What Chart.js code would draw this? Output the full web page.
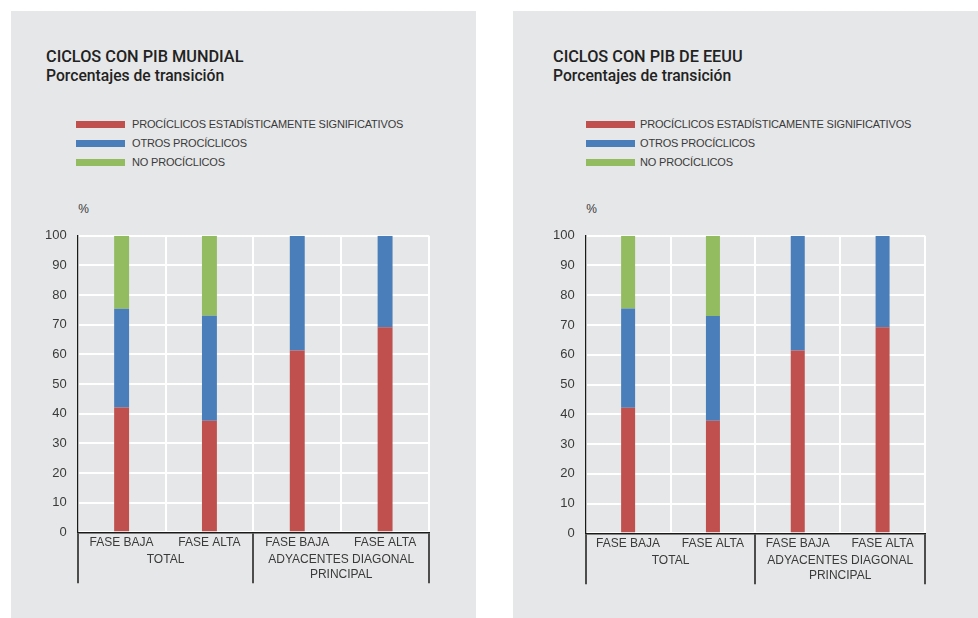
<!DOCTYPE html>
<html><head><meta charset="utf-8">
<script src="https://cdn.jsdelivr.net/npm/chart.js@4.4.1/dist/chart.umd.min.js"></script>
<style>
html,body{margin:0;padding:0;background:#fff;}
body{width:978px;height:618px;position:relative;overflow:hidden;font-family:'Liberation Sans',Arial,sans-serif;}
.panel{position:absolute;top:11px;width:465px;height:607px;background:#e6e7e8;}
.abs{position:absolute;white-space:nowrap;}
.title{font-family:Roboto,sans-serif;font-weight:500;font-size:16.3px;line-height:18px;color:#222;}
.sub{font-family:Roboto,sans-serif;font-weight:500;font-size:15.7px;line-height:18px;color:#222;}
.leg{font-size:11px;line-height:13px;color:#3a3a3a;letter-spacing:-0.18px;}
.pct{font-size:12px;line-height:14px;color:#3a3a3a;}
.swatch{position:absolute;width:49px;height:7px;}
canvas{position:absolute;}
</style></head>
<body>
<div class="panel" style="left:11px"></div>
<div class="panel" style="left:513px"></div>
<div id="overlay"></div>
<canvas id="c1" width="465" height="380" style="left:11px;top:220px"></canvas>
<canvas id="c2" width="465" height="380" style="left:513px;top:220px"></canvas>
<script>
// ---- data ----
const categories = ['FASE BAJA', 'FASE ALTA', 'FASE BAJA', 'FASE ALTA'];
const groups = ['TOTAL', ['ADYACENTES DIAGONAL', 'PRINCIPAL']];
const seriesNames = ['PROCÍCLICOS ESTADÍSTICAMENTE SIGNIFICATIVOS', 'OTROS PROCÍCLICOS', 'NO PROCÍCLICOS'];
const titles = ['CICLOS CON PIB MUNDIAL', 'CICLOS CON PIB DE EEUU'];
const subtitle = 'Porcentajes de transición';
const unitLabel = '%';
const mundialSignif = [42.1, 37.6, 61.3, 69.1];
const mundialOtros = [33.3, 35.4, 38.7, 30.9];
const mundialNo = [24.6, 27.0, 0, 0];
const eeuuSignif = [42.2, 37.8, 61.4, 69.2];
const eeuuOtros = [33.3, 35.2, 38.6, 30.8];
const eeuuNo = [24.5, 27.0, 0, 0];

const colors = ['#c0504d', '#4a7ebb', '#93bb5f'];

// ---- text overlay ----
const overlay = document.getElementById('overlay');
function addText(cls, text, left, top) {
  const d = document.createElement('div');
  d.className = 'abs ' + cls;
  d.textContent = text;
  d.style.left = left + 'px';
  d.style.top = top + 'px';
  overlay.appendChild(d);
}
const layouts = [
  {titleX: 46, legBoxX: 76, legTextX: 132, pctX: 78.3},
  {titleX: 553, legBoxX: 586, legTextX: 640, pctX: 586.3}
];
layouts.forEach((L, p) => {
  addText('title', titles[p], L.titleX, 47.5);
  addText('sub', subtitle, L.titleX, 67);
  const legY = [124.3, 143.8, 162.3];
  seriesNames.forEach((n, i) => {
    const s = document.createElement('div');
    s.className = 'swatch';
    s.style.left = L.legBoxX + 'px';
    s.style.top = (legY[i] - 3.5) + 'px';
    s.style.background = colors[i];
    overlay.appendChild(s);
    addText('leg', n, L.legTextX, legY[i] - 6.5);
  });
  addText('pct', unitLabel, L.pctX, 202);
});

// ---- charts ----
Chart.defaults.font.family = "'Liberation Sans', Arial, sans-serif";
Chart.defaults.color = '#3a3a3a';

function makeChart(id, signif, otros, no, g) {
  return new Chart(document.getElementById(id), {
    type: 'bar',
    data: {
      labels: categories,
      datasets: [
        {label: seriesNames[0], data: signif, backgroundColor: colors[0]},
        {label: seriesNames[1], data: otros, backgroundColor: colors[1]},
        {label: seriesNames[2], data: no, backgroundColor: colors[2]}
      ]
    },
    options: {
      responsive: false,
      animation: false,
      layout: {padding: {left: 0, right: g.padR, top: g.padT, bottom: g.padB}},
      datasets: {bar: {categoryPercentage: 1, barPercentage: g.barPct, borderWidth: 0}},
      plugins: {legend: {display: false}, tooltip: {enabled: false}},
      scales: {
        x: {
          stacked: true,
          offset: true,
          grid: {
            offset: true,
            color: '#ffffff',
            lineWidth: 2,
            drawTicks: true,
            tickLength: 51,
            tickWidth: 1.5,
            tickColor: c => (c.index === undefined || c.index % 2 === 0) ? '#1a1a1a' : 'rgba(0,0,0,0)'
          },
          border: {display: true, color: '#1a1a1a', width: 1.5, z: 1},
          ticks: {padding: -48, font: {size: 12}, color: '#3a3a3a', maxRotation: 0, autoSkip: false},
          afterFit: s => { s.height = 18; }
        },
        x2: {
          type: 'category',
          position: 'bottom',
          labels: groups,
          offset: true,
          grid: {display: false, drawTicks: false},
          border: {display: false},
          ticks: {padding: 2, font: {size: 12, lineHeight: 1.25}, color: '#3a3a3a', maxRotation: 0, autoSkip: false},
          afterFit: s => { s.height = 32; }
        },
        y: {
          stacked: true,
          min: 0,
          max: 100,
          ticks: {stepSize: 10, padding: 11, font: {size: 13}, color: '#3a3a3a'},
          grid: {color: '#ffffff', lineWidth: 2, drawTicks: false},
          border: {display: true, color: '#1a1a1a', width: 1.3, z: 1},
          afterFit: s => { s.width = g.yWidth; s.paddingTop = 0; s.paddingBottom = 0; }
        }
      }
    }
  });
}
makeChart('c1', mundialSignif, mundialOtros, mundialNo, {padR: 47, padT: 15.7, padB: 17.7, yWidth: 66.7, barPct: 0.17});
makeChart('c2', eeuuSignif, eeuuOtros, eeuuNo, {padR: 53, padT: 15.7, padB: 16.7, yWidth: 72.7, barPct: 0.165});
</script>
</body></html>
